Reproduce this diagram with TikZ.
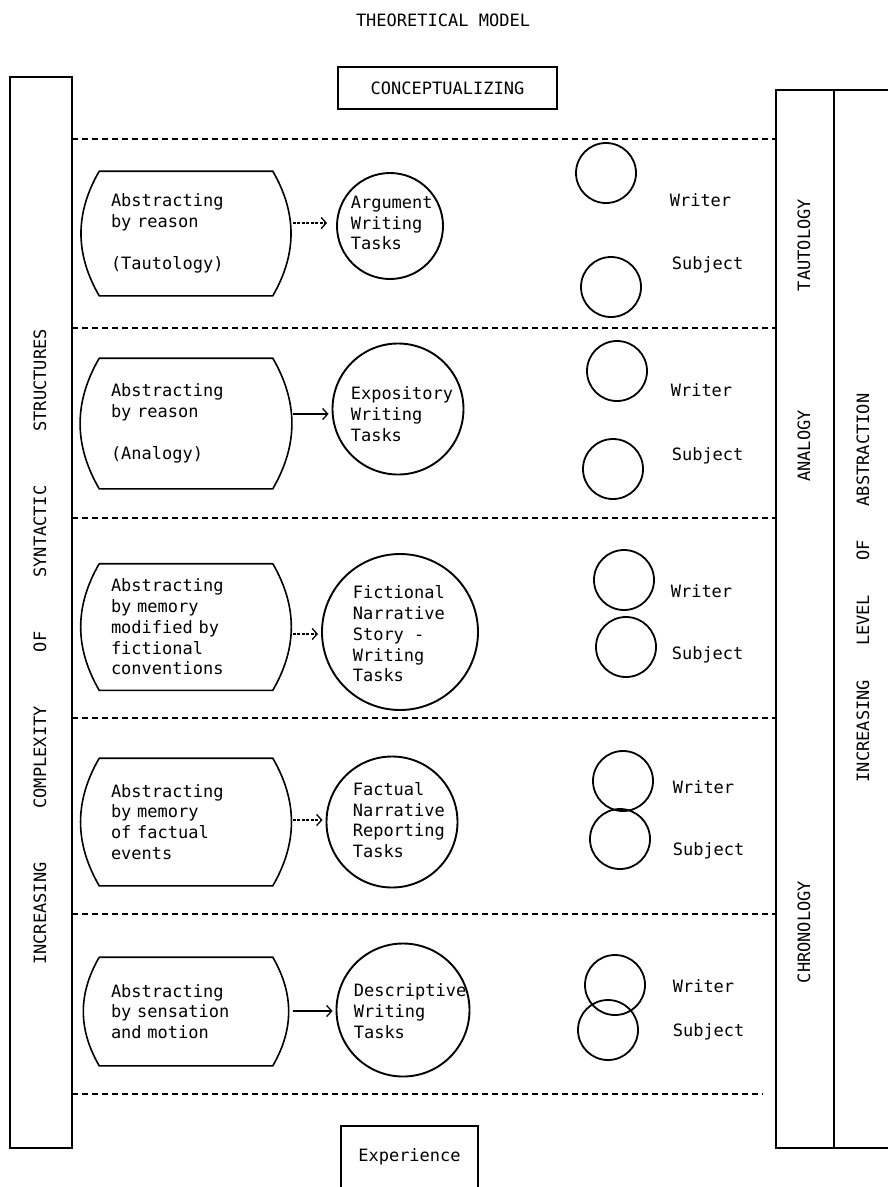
\documentclass[tikz,border=0pt]{standalone}
\usepackage{fontspec}
\setmainfont{DejaVu Sans Mono}
\usepackage{tikz}
\usetikzlibrary{arrows.meta}

\tikzset{
  absbox/.style={text width=150pt,inner xsep=11pt,inner ysep=0pt,align=left},
  taskring/.style={circle,draw,line width=1.9pt,inner sep=0pt},
  tasktext/.style={align=left,anchor=west,inner sep=0pt},
  actor/.style={circle,draw,line width=1.8pt,minimum size=60pt,inner sep=0pt},
  actortext/.style={anchor=west,inner sep=0pt,text height=12pt,text depth=3.5pt},
  rowline/.style={line width=1.5pt,dash pattern=on 6pt off 4pt},
  feed/.style={-{Straight Barb[length=5pt,width=11pt]},line width=1.3pt,shorten <=20pt,shorten >=3pt},
  feeddash/.style={feed,dash pattern=on 3pt off 1.5pt},
  sidelabel/.style={rotate=90,inner sep=0pt}
}

\begin{document}
\begin{tikzpicture}[x=1pt,y=-1pt,line width=1.6pt,font=\fontsize{17}{20.7}\selectfont]
\useasboundingbox (0,0) rectangle (888,1187);

\node (title) at (443,20) {THEORETICAL MODEL};
\node[draw,minimum width=219pt,minimum height=42pt] (concept) at (447.5,88) {CONCEPTUALIZING};

% side columns
\draw (10,77) rectangle (72,1148);
\draw (888,90) -- (776,90) -- (776,1148) -- (888,1148);
\draw (834,90) -- (834,1148);
\node[sidelabel] (syntax) at (40,647) {INCREASING\hspace{54pt}COMPLEXITY\hspace{54pt}OF\hspace{54pt}SYNTACTIC\hspace{54pt}STRUCTURES};
\node[sidelabel] (abstr) at (863,588) {INCREASING\hspace{34pt}LEVEL\hspace{34pt}OF\hspace{34pt}ABSTRACTION};
\node[sidelabel] (tauto) at (804,245) {TAUTOLOGY};
\node[sidelabel] (analog) at (804,446) {ANALOGY};
\node[sidelabel] (chrono) at (804,932) {CHRONOLOGY};

% rows
\draw[rowline] (72,139) -- (776,139);
\draw[rowline] (72,328) -- (776,328);
\draw[rowline] (72,518) -- (776,518);
\draw[rowline] (72,718) -- (776,718);
\draw[rowline] (72,914) -- (776,914);
\draw[rowline] (72,1094) -- (763,1094);

% abstracting boxes
\node[absbox,minimum height=123pt] (absA) at (186,233.5) {Abstracting\\by reason\\[21pt](Tautology)};
\node[absbox,minimum height=129pt] (absB) at (186,423.5) {Abstracting\\by reason\\[21pt](Analogy)};
\node[absbox,minimum height=125pt] (absC) at (186,627) {Abstracting\\by memory\\modified by\\fictional\\conventions};
\node[absbox,minimum height=126pt] (absD) at (186,822) {Abstracting\\by memory\\of factual\\events};
\node[absbox,minimum height=107pt] (absE) at (186,1011.5) {Abstracting\\by sensation\\and motion};
\draw (absA.north west) -- (absA.north east) to[bend left=30] (absA.south east) -- (absA.south west) to[bend left=30] (absA.north west);
\draw (absB.north west) -- (absB.north east) to[bend left=30] (absB.south east) -- (absB.south west) to[bend left=30] (absB.north west);
\draw (absC.north west) -- (absC.north east) to[bend left=30] (absC.south east) -- (absC.south west) to[bend left=30] (absC.north west);
\draw (absD.north west) -- (absD.north east) to[bend left=30] (absD.south east) -- (absD.south west) to[bend left=30] (absD.north west);
\draw (absE.north west) -- (absE.north east) to[bend left=30] (absE.south east) -- (absE.south west) to[bend left=30] (absE.north west);

% writing tasks
\node[taskring,minimum size=106pt] (tskA) at (390,226) {};
\node[taskring,minimum size=131pt] (tskB) at (398,409) {};
\node[taskring,minimum size=156pt] (tskC) at (400,632) {};
\node[taskring,minimum size=131pt] (tskD) at (392,822) {};
\node[taskring,minimum size=133pt] (tskE) at (403,1010) {};
\node[tasktext] (tskAtxt) at (350,223) {Argument\\Writing\\Tasks};
\node[tasktext] (tskBtxt) at (350,414) {Expository\\Writing\\Tasks};
\node[tasktext] (tskCtxt) at (352,634) {Fictional\\Narrative\\Story -\\Writing\\Tasks};
\node[tasktext] (tskDtxt) at (352,820) {Factual\\Narrative\\Reporting\\Tasks};
\node[tasktext] (tskEtxt) at (353,1011) {Descriptive\\Writing\\Tasks};

\draw[feeddash,shorten >=9pt] (absA.east |- tskAtxt.west) -- (tskA.west |- tskAtxt.west);
\draw[feed] (absB.east |- tskBtxt.west) -- (tskB.west |- tskBtxt.west);
\draw[feeddash] (absC.east |- tskCtxt.west) -- (tskC.west |- tskCtxt.west);
\draw[feeddash] (absD.east |- tskDtxt.west) -- (tskD.west |- tskDtxt.west);
\draw[feed] (absE.east |- tskEtxt.west) -- (tskE.west |- tskEtxt.west);

% writer and subject
\node[actor] (wrA) at (606,173) {};
\node[actor] (sbA) at (611,287) {};
\node[actor] (wrB) at (617,371) {};
\node[actor] (sbB) at (613,469) {};
\node[actor] (wrC) at (624,580) {};
\node[actor] (sbC) at (626,647) {};
\node[actor] (wrD) at (623,781) {};
\node[actor] (sbD) at (620,839) {};
\node[actor] (wrE) at (615,985) {};
\node[actor] (sbE) at (608,1030) {};
\node[actortext] (wrAlbl) at (669,202) {Writer};
\node[actortext] (sbAlbl) at (671,265) {Subject};
\node[actortext] (wrBlbl) at (670,392) {Writer};
\node[actortext] (sbBlbl) at (671,456) {Subject};
\node[actortext] (wrClbl) at (670,593) {Writer};
\node[actortext] (sbClbl) at (671,655) {Subject};
\node[actortext] (wrDlbl) at (672,789) {Writer};
\node[actortext] (sbDlbl) at (672,851) {Subject};
\node[actortext] (wrElbl) at (672,988) {Writer};
\node[actortext] (sbElbl) at (672,1032) {Subject};

% experience
\node[minimum width=135pt,minimum height=60pt] (exper) at (409.5,1157) {Experience};
\draw (exper.south west) |- (exper.north east) -- (exper.south east);
\end{tikzpicture}
\end{document}
